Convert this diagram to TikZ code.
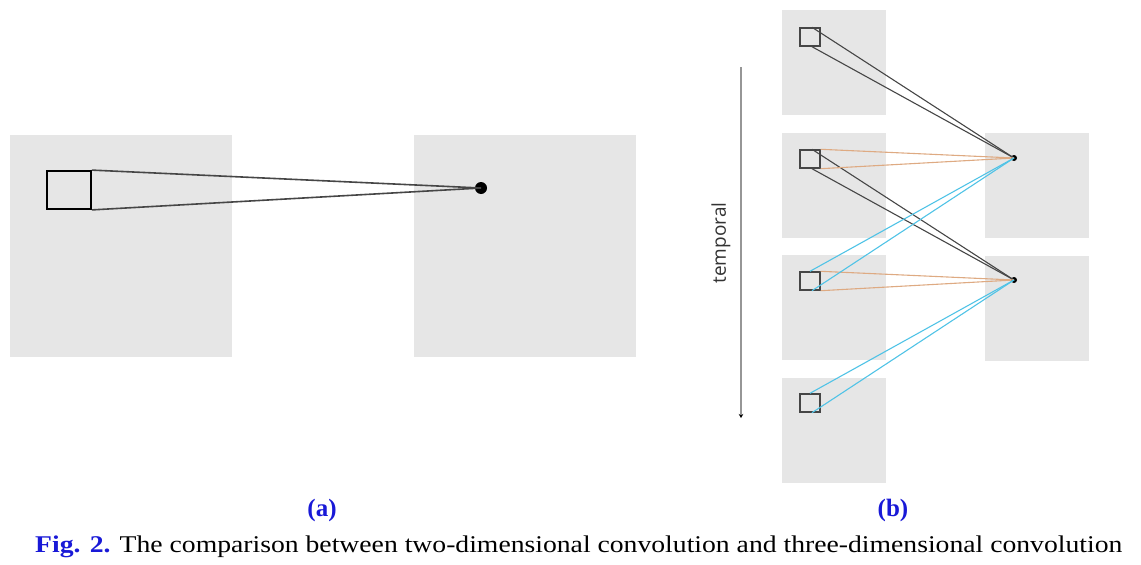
\documentclass[tikz,border=0pt]{standalone}
\usepackage{fontspec}
\setmainfont{Liberation Serif}
\newfontfamily\labelsans{Open Sans}
\usetikzlibrary{arrows.meta,calc}
\definecolor{panelgray}{RGB}{230,230,230}
\definecolor{figblue}{RGB}{25,25,215}
\definecolor{linegray}{RGB}{70,70,70}
\definecolor{peach}{RGB}{222,170,130}
\definecolor{skyline}{RGB}{80,195,230}
\definecolor{axisgray}{RGB}{150,150,150}
\tikzset{
  panel/.style={fill=panelgray, draw=none, inner sep=0pt},
  bigpanel/.style={panel, minimum width=222pt, minimum height=222pt},
  smallpanel/.style={panel, minimum width=104pt, minimum height=105pt},
  kernelA/.style={draw=black, line width=1.8pt, inner sep=0pt, minimum width=44pt, minimum height=38pt},
  kernelB/.style={draw=linegray, line width=1.4pt, inner sep=0pt, minimum width=20pt, minimum height=18pt},
  dotA/.style={circle, fill=black, inner sep=0pt, minimum size=12pt},
  dotB/.style={circle, fill=black, inner sep=0pt, minimum size=6pt},
  conA/.style={draw=linegray, line width=1.6pt},
  conK/.style={draw=linegray, line width=1.1pt},
  conO/.style={draw=peach, line width=1.1pt},
  conC/.style={draw=skyline, line width=1.1pt},
  sublabel/.style={text=figblue, font=\fontsize{25}{29}\selectfont\bfseries, inner sep=0pt},
}
\begin{document}
\begin{tikzpicture}[x=1pt, y=-1pt]
\useasboundingbox (0,0) rectangle (1141,565);
% ---------- (a) ----------
\node[bigpanel] (A1) at (121,246) {};
\node[bigpanel] (A2) at (524.5,246) {};
\node[kernelA] (ka) at (69,190) {};
\node[dotA] (da) at (481,188) {};
\draw[conA] (ka.north east) -- (da.center);
\draw[conA] (ka.south east) -- (da.center);
% ---------- (b) ----------
\node[smallpanel] (L1) at (834,62.5) {};
\node[smallpanel] (L2) at (834,185) {};
\node[smallpanel] (L3) at (834,307.5) {};
\node[smallpanel] (L4) at (834,430) {};
\node[smallpanel] (R1) at (1036.5,185.5) {};
\node[smallpanel] (R2) at (1036.5,308.5) {};
\node[kernelB] (k1) at (810,37) {};
\node[kernelB] (k2) at (810,159) {};
\node[kernelB] (k3) at (810,281) {};
\node[kernelB] (k4) at (810,403) {};
\node[dotB] (d1) at (1014,158) {};
\node[dotB] (d2) at (1014,280) {};
% black connectors
\draw[conK] ($(k1.north)+(2,0)$) -- (d1.center);
\draw[conK] ($(k1.south)+(2,0)$) -- (d1.center);
\draw[conK] ($(k2.north)+(2,0)$) -- (d2.center);
\draw[conK] ($(k2.south)+(2,0)$) -- (d2.center);
% orange connectors
\draw[conO] (k2.north east) -- (d1.center);
\draw[conO] (k2.south east) -- (d1.center);
\draw[conO] (k3.north east) -- (d2.center);
\draw[conO] (k3.south east) -- (d2.center);
% cyan connectors
\draw[conC] (k3.north) -- (d1.center);
\draw[conC] ($(k3.south)+(2,0)$) -- (d1.center);
\draw[conC] (k4.north) -- (d2.center);
\draw[conC] ($(k4.south)+(2,0)$) -- (d2.center);
% temporal axis
\coordinate (t0) at (741,67);
\coordinate (t1) at (741,418);
\draw[axisgray, line width=1.8pt, -{Stealth[length=4pt,width=4.5pt,black]}] (t0) -- (t1);
\node[rotate=90, text=black!80, font=\labelsans\fontsize{19}{22}\selectfont, inner sep=0pt] (tl) at (721,243) {temporal};
% ---------- labels ----------
\node[sublabel] (la) at (322,510) {(a)};
\node[sublabel] (lb) at (893,510) {(b)};
\node[inner sep=0pt, anchor=west] (cap) at (35,547) {\resizebox{1087pt}{\height}{\fontsize{24}{28}\selectfont\textcolor{figblue}{\bfseries Fig. 2.} The comparison between two-dimensional convolution and three-dimensional convolution}};
\end{tikzpicture}
\end{document}
